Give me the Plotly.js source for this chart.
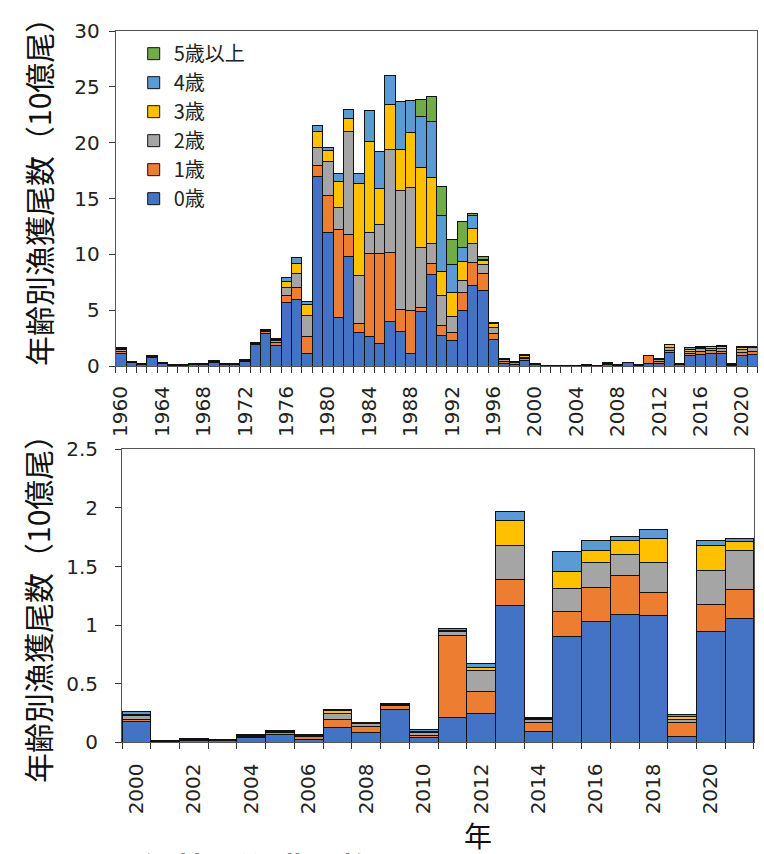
<!DOCTYPE html>
<html><head><meta charset="utf-8">
<script src="https://cdn.plot.ly/plotly-3.0.1.min.js"></script>
<style>html,body{margin:0;padding:0;background:#fff}#chart{width:764px;height:854px}</style>
</head><body><div id="chart"></div>
<script>
// 年 (1960-2021)
const years = [1960,1961,1962,1963,1964,1965,1966,1967,1968,1969,
  1970,1971,1972,1973,1974,1975,1976,1977,1978,1979,
  1980,1981,1982,1983,1984,1985,1986,1987,1988,1989,
  1990,1991,1992,1993,1994,1995,1996,1997,1998,1999,
  2000,2001,2002,2003,2004,2005,2006,2007,2008,2009,
  2010,2011,2012,2013,2014,2015,2016,2017,2018,2019,
  2020,2021];
// 年齢別漁獲尾数（10億尾）
const age0 = [1.1,0.3,0.15,0.75,0.2,0.06,0.06,0.12,0.14,0.35,
  0.17,0.17,0.4,1.9,2.9,1.8,5.65,6.0,1.1,17.0,
  12.0,4.35,9.8,3.0,2.6,2.0,4.0,3.1,1.1,4.9,
  8.2,2.75,2.25,5.0,7.2,6.75,2.4,0.25,0.1,0.5,
  0.18,0.01,0.02,0.015,0.045,0.07,0.023,0.13,0.088,0.28,
  0.045,0.21,0.245,1.17,0.097,0.9,1.03,1.095,1.085,0.05,
  0.945,1.055];
const age1 = [0.2,0.05,0.03,0.05,0.04,0.02,0.02,0.03,0.03,0.06,
  0.03,0.03,0.06,0.1,0.2,0.3,0.7,1.05,1.5,0.95,
  3.3,7.9,2.0,0.8,7.5,8.1,6.2,2.0,3.9,0.35,
  0.95,0.9,0.75,1.6,2.1,1.5,0.5,0.2,0.2,0.15,
  0.02,0.003,0.008,0.007,0.01,0.015,0.027,0.065,0.05,0.034,
  0.015,0.70,0.19,0.22,0.077,0.22,0.29,0.33,0.19,0.12,
  0.23,0.25];
const age2 = [0.2,0.05,0.03,0.05,0.03,0.01,0.01,0.02,0.02,0.05,
  0.03,0.03,0.06,0.05,0.1,0.2,0.7,1.2,1.9,1.65,
  3.0,1.95,9.2,4.3,1.9,2.6,9.2,10.6,11.0,5.4,
  1.8,2.7,1.4,1.1,1.7,0.8,0.55,0.15,0.05,0.15,
  0.03,0.002,0.004,0.003,0.005,0.008,0.01,0.055,0.022,0.01,
  0.025,0.035,0.18,0.29,0.02,0.19,0.215,0.175,0.26,0.03,
  0.295,0.335];
const age3 = [0.1,0.03,0.02,0.03,0.02,0.01,0.01,0.02,0.01,0.03,
  0.01,0.01,0.04,0.03,0.05,0.1,0.55,0.95,1.0,1.4,
  1.0,2.3,1.2,8.2,8.1,3.2,4.0,3.7,4.9,7.15,
  5.95,2.15,2.2,1.65,1.3,0.4,0.35,0.05,0.03,0.1,
  0.01,0.001,0.002,0.002,0.003,0.004,0.005,0.02,0.009,0.004,
  0.012,0.01,0.02,0.215,0.01,0.15,0.1,0.125,0.205,0.02,
  0.21,0.075];
const age4 = [0.1,0.02,0.01,0.02,0.01,0,0,0.01,0,0.01,
  0.01,0.01,0.04,0.02,0.05,0.1,0.35,0.55,0.3,0.5,
  0.3,0.75,0.75,0.95,2.75,3.3,2.6,4.3,2.9,4.5,
  5.0,5.0,2.5,1.25,1.15,0.1,0.1,0.05,0.02,0.1,
  0.02,0.001,0.001,0.001,0.002,0.003,0.005,0.01,0.005,0.002,
  0.011,0.018,0.035,0.075,0.01,0.165,0.09,0.03,0.08,0.02,
  0.04,0.025];
const age5 = [0,0,0,0,0,0,0,0,0,0,
  0,0,0,0,0,0,0,0,0,0,
  0,0,0,0,0,0,0,0,0,1.55,
  2.25,2.6,2.2,2.35,0.25,0.25,0,0,0,0,
  0,0,0,0,0,0,0,0,0,0,
  0,0,0,0,0,0,0,0,0,0,
  0,0];
const seriesNames = ['0歳','1歳','2歳','3歳','4歳','5歳以上'];
const topTickLabels = [1960,1964,1968,1972,1976,1980,1984,1988,1992,1996,2000,2004,2008,2012,2016,2020];
const bottomTickLabels = [2000,2002,2004,2006,2008,2010,2012,2014,2016,2018,2020];
const bottomStartYear = 2000;
const yTitle = '年齢別漁獲尾数（10億尾）';
const xTitle = '年';
const captionNo = '図1';
const captionText = '年齢別漁獲尾数';

const seriesValues = [age0, age1, age2, age3, age4, age5];
const colors = ['#4472C4','#ED7D31','#A5A5A5','#FFC000','#5B9BD5','#70AD47'];

const traces = [];
seriesValues.forEach((vals, i) => {
  traces.push({
    type: 'bar', x: years, y: vals, name: seriesNames[i],
    xaxis: 'x', yaxis: 'y', showlegend: true,
    marker: {color: colors[i], line: {color: '#111', width: 1}},
    hoverinfo: 'x+y+name'
  });
});
const idx = years.map((y, k) => k).filter(k => years[k] >= bottomStartYear);
seriesValues.forEach((vals, i) => {
  traces.push({
    type: 'bar', x: idx.map(k => years[k]), y: idx.map(k => vals[k]), name: seriesNames[i],
    xaxis: 'x2', yaxis: 'y2', showlegend: false,
    marker: {color: colors[i], line: {color: '#111', width: 1}},
    hoverinfo: 'x+y+name'
  });
});

const tickFont = {family: '"DejaVu Sans", Verdana, sans-serif', size: 20, color: '#222'};
const cjk = '"Noto Sans CJK JP", sans-serif';
const titleFont = {family: cjk, size: 30, color: '#111'};
const lineCol = '#555';

const layout = {
  width: 764, height: 854,
  margin: {l: 0, r: 0, t: 0, b: 0},
  paper_bgcolor: '#fff', plot_bgcolor: '#fff',
  barmode: 'stack', bargap: 0,
  font: {family: cjk, color: '#222'},
  showlegend: true,
  legend: {x: 0.175, y: 0.96, xanchor: 'left', yanchor: 'top', traceorder: 'reversed',
    bgcolor: 'rgba(0,0,0,0)', font: {size: 20, color: '#222'}},
  xaxis: {domain: [0.1514, 0.9914], anchor: 'y', range: [1959.5, 2021.5],
    tickmode: 'array', tickvals: topTickLabels, ticktext: topTickLabels.map(String),
    tickangle: -90, ticks: '', ticklabelstandoff: 11,
    minor: {tickmode: 'linear', tick0: 1959.5, dtick: 1, ticks: 'outside', ticklen: 6, tickcolor: '#333', showgrid: false},
    showline: true, linecolor: lineCol, linewidth: 1, mirror: true,
    showgrid: false, zeroline: false, tickfont: tickFont},
  yaxis: {domain: [0.5714, 0.9637], anchor: 'x', range: [0, 30], tickmode: 'linear', tick0: 0, dtick: 5,
    ticks: 'outside', ticklen: 6, tickcolor: '#333', ticklabelstandoff: 5,
    showline: true, linecolor: lineCol, linewidth: 1, mirror: true,
    showgrid: false, zeroline: false, tickfont: tickFont},
  xaxis2: {domain: [0.1597, 0.9869], anchor: 'y2', range: [1999.5, 2021.5],
    tickmode: 'array', tickvals: bottomTickLabels, ticktext: bottomTickLabels.map(String),
    tickangle: -90, ticks: '', ticklabelstandoff: 12,
    minor: {tickmode: 'linear', tick0: 1999.5, dtick: 1, ticks: 'outside', ticklen: 6, tickcolor: '#333', showgrid: false},
    showline: true, linecolor: lineCol, linewidth: 1, mirror: true,
    showgrid: false, zeroline: false, tickfont: tickFont},
  yaxis2: {domain: [0.1306, 0.4739], anchor: 'x2', range: [0, 2.5], tickmode: 'linear', tick0: 0, dtick: 0.5,
    ticks: 'outside', ticklen: 6, tickcolor: '#333', ticklabelstandoff: 13,
    showline: true, linecolor: lineCol, linewidth: 1, mirror: true,
    showgrid: false, zeroline: false, tickfont: tickFont},
  annotations: [
    {text: yTitle, xref: 'paper', yref: 'paper', x: 38/764, y: (854-185)/854, xanchor: 'center', yanchor: 'middle',
      textangle: -90, showarrow: false, font: titleFont},
    {text: yTitle, xref: 'paper', yref: 'paper', x: 37/764, y: (854-602)/854, xanchor: 'center', yanchor: 'middle',
      textangle: -90, showarrow: false, font: titleFont},
    {text: xTitle, xref: 'paper', yref: 'paper', x: 478/764, y: (854-835)/854, xanchor: 'center', yanchor: 'middle',
      showarrow: false, font: {family: cjk, size: 28, color: '#111'}},
    {text: '<b>' + captionNo + '</b>', xref: 'paper', yref: 'paper', x: 33/764, y: 12/854, xanchor: 'left', yanchor: 'top',
      showarrow: false, font: {family: cjk, size: 33, color: '#111'}},
    {text: '<b>' + captionText + '</b>', xref: 'paper', yref: 'paper', x: 138/764, y: 12/854, xanchor: 'left', yanchor: 'top',
      showarrow: false, font: {family: cjk, size: 33, color: '#111'}}
  ]
};

Plotly.newPlot('chart', traces, layout, {displayModeBar: false, staticPlot: true});
</script>
</body></html>
